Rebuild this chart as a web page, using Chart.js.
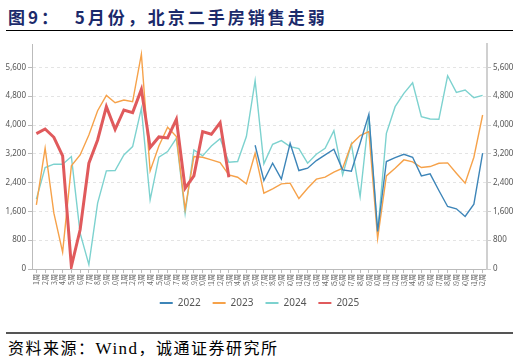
<!DOCTYPE html>
<html>
<head>
<meta charset="utf-8">
<script src="https://cdn.jsdelivr.net/npm/chart.js@4.4.1/dist/chart.umd.min.js"></script>
<style>
  body { margin: 0; background: #fff; width: 519px; height: 363px; position: relative; overflow: hidden; }
  #title { position: absolute; left: 8px; top: 4px; font: bold 17px "Noto Sans CJK SC", sans-serif; color: #1b2a6b; letter-spacing: 3px; white-space: pre; }
  #rule1 { position: absolute; left: 6px; top: 30px; width: 507px; height: 1px; background: #000; }
  #rule2 { position: absolute; left: 6px; top: 332px; width: 507px; height: 2px; background: #555; }
  #source { position: absolute; left: 8px; top: 335px; font: 16px "Noto Sans CJK SC", serif; color: #000; letter-spacing: 1.5px; white-space: pre; }
  #source .en { font-family: "Liberation Serif", serif; font-size: 17px; }
  #wrap { position: absolute; left: 0; top: 36px; width: 519px; height: 282px; }
</style>
</head>
<body>
<div id="title">图9：  5月份，北京二手房销售走弱</div>
<div id="rule1"></div>
<div id="wrap"><canvas id="chart-line"></canvas></div>
<div id="rule2"></div>
<div id="source">资料来源：<span class="en">Wind</span>，诚通证券研究所</div>
<script>
const weeks = [];
for (let i = 1; i <= 52; i++) weeks.push(i + '周');

const s2022 = [null, null, null, null, null, null, null, null, null, null,
  null, null, null, null, null, null, null, null, null, null,
  null, null, null, null, null, 3437, 2458, 2938, 2495, 3493,
  2735, 2800, 3012, 3169, 3326, 2753, 2717, 3493, 4297, 1044,
  2985, 3095, 3188, 3105, 2587, 2643, 2181, 1737, 1672, 1460,
  1802, 3216];
const s2023 = [1783, 3354, 1552, 471, 2864, 3169, 3724, 4398, 4823, 4620,
  4694, 4648, 5969, 2726, 3419, 3936, 3678, 1660, 3123, 3105,
  3031, 2957, 2615, 2550, 2365, 3216, 2107, 2227, 2365, 2384,
  1959, 2245, 2495, 2550, 2690, 2800, 3465, 3705, 3816, 850,
  2587, 2800, 3031, 2975, 2818, 2846, 2938, 2948, 2661, 2384,
  3105, 4278];
const s2024 = [1940, 2818, 2911, 2911, 3123, 998, 120, 1830, 2726, 2735,
  3169, 3400, 4463, 1922, 3105, 3262, 3631, 1545, 3308, 3142,
  3419, 3622, 2966, 2985, 3678, 5230, 2920, 3465, 3567, 3400,
  3345, 2938, 3188, 3354, 3844, 2615, 3474, 2014, 4250, 998,
  3770, 4509, 4879, 5174, 4232, 4167, 4158, 5368, 4906, 4971,
  4759, 4823];
const s2025 = [3761, 3890, 3659, 3142, 74, 1090, 2938, 3585, 4509, 3881,
  4417, 4343, 4990, 3373, 3668, 3641, 4158, 2245, 2587, 3816,
  3742, 4066, 2550];

const yTicks = [0, 800, 1600, 2400, 3200, 4000, 4800, 5600];

function line(label, data, color, width, order) {
  return {
    label: label,
    data: data,
    borderColor: color,
    backgroundColor: color,
    borderWidth: width,
    pointRadius: 0,
    tension: 0,
    spanGaps: false,
    order: order
  };
}

const tickFont = { family: 'Noto Sans, sans-serif', size: 8 };

new Chart(document.getElementById('chart-line'), {
  type: 'line',
  data: {
    labels: weeks,
    datasets: [
      line('2022', s2022, '#3d85b8', 1.4, 1),
      line('2023', s2023, '#f6a24a', 1.4, 1),
      line('2024', s2024, '#7dd2cf', 1.4, 1),
      line('2025', s2025, '#e05a5c', 3, 0)
    ]
  },
  options: {
    responsive: true,
    maintainAspectRatio: false,
    animation: false,
    layout: { padding: { top: 8, left: 0, right: 0, bottom: 0 } },
    plugins: {
      legend: {
        position: 'bottom',
        labels: {
          boxWidth: 13,
          boxHeight: 2,
          padding: 12,
          color: '#555',
          font: { family: 'Noto Sans, sans-serif', size: 10 },
          generateLabels: function(chart) {
            return chart.data.datasets.map((ds, i) => ({
              text: ds.label,
              fillStyle: ds.borderColor,
              strokeStyle: ds.borderColor,
              lineWidth: 0,
              datasetIndex: i,
              hidden: false,
              fontColor: '#555'
            }));
          }
        }
      },
      tooltip: { enabled: false }
    },
    scales: {
      x: {
        offset: true,
        grid: { drawOnChartArea: false, tickLength: 4, color: '#bbb' },
        border: { color: '#bbb' },
        ticks: {
          autoSkip: false,
          maxRotation: 90,
          minRotation: 90,
          padding: 1,
          color: '#666',
          font: { family: 'Noto Sans CJK SC, sans-serif', size: 7 }
        },
        afterFit: s => { s.height = 17; }
      },
      y: {
        position: 'left',
        min: 0,
        max: 6250,
        afterBuildTicks: s => { s.ticks = yTicks.map(v => ({ value: v })); },
        grid: { color: '#e4e4e4', tickLength: 4, tickColor: '#bbb' },
        border: { color: '#bbb', dash: [3, 3] },
        ticks: { color: '#555', font: tickFont, padding: 2 },
        afterFit: s => { s.width = 32; }
      },
      y1: {
        position: 'right',
        min: 0,
        max: 6250,
        afterBuildTicks: s => { s.ticks = yTicks.map(v => ({ value: v })); },
        grid: { drawOnChartArea: false, tickLength: 4, color: '#ccc' },
        border: { color: '#d0d0d0', width: 2 },
        ticks: { color: '#555', font: tickFont, padding: 2 },
        afterFit: s => { s.width = 32; }
      }
    }
  }
});
</script>
</body>
</html>
